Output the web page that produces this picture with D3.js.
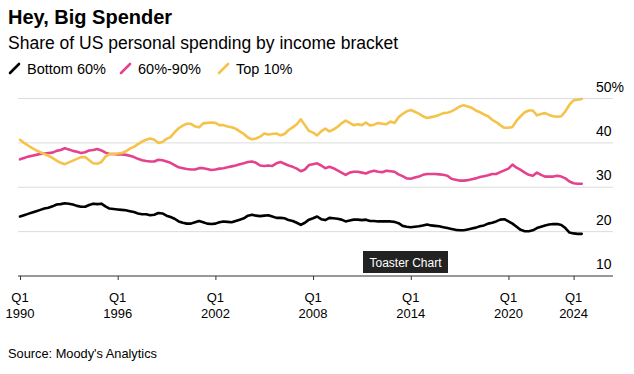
<!DOCTYPE html>
<html lang="en">
<head>
<meta charset="UTF-8">
<title>Hey, Big Spender</title>
<script src="https://d3js.org/d3.v7.min.js"></script>
<style>
  * { margin: 0; padding: 0; box-sizing: border-box; }
  body { background: #fff; width: 634px; height: 374px; overflow: hidden; }
  svg text { font-family: "Liberation Sans", Arial, sans-serif; fill: #000; }
  .grid line { stroke: #dcdcdc; stroke-width: 1; }
  .series { fill: none; stroke-width: 2.6; stroke-linejoin: round; stroke-linecap: round; }
</style>
</head>
<body>
<div id="chart"></div>
<script>
// quarterly, Q1 1990 .. Q3 2024
const quarters = d3.timeMonth.every(3).range(new Date(1990, 0, 1), new Date(2024, 9, 1));

const seriesNames = ["Bottom 60%", "60%-90%", "Top 10%"];
const seriesColors = ["#000000", "#e5428d", "#f5c24a"];

const bottom60 = [
  23.4, 23.7, 24.0, 24.3, 24.6, 24.9, 25.2, 25.4,
  25.7, 26.1, 26.2, 26.4, 26.3, 26.1, 25.8, 25.6,
  25.6, 26.0, 26.3, 26.2, 26.3, 25.7, 25.2, 25.1,
  25.0, 24.9, 24.8, 24.6, 24.4, 24.1, 23.9, 23.9,
  23.7, 23.8, 24.2, 24.1, 23.6, 23.3, 22.9, 22.3,
  22.0, 21.8, 21.8, 22.1, 22.4, 22.1, 21.8, 21.7,
  21.8, 22.1, 22.3, 22.2, 22.1, 22.4, 22.7, 23.0,
  23.6, 23.8, 23.6, 23.5, 23.6, 23.7, 23.4, 23.1,
  23.1, 23.0, 22.6, 22.4, 22.0, 21.5, 22.0, 22.7,
  23.0, 23.4, 22.8, 22.6, 23.1, 23.0, 22.9, 22.7,
  22.3, 22.5, 22.7, 22.7, 22.6, 22.7, 22.4, 22.4,
  22.3, 22.3, 22.3, 22.3, 22.2, 21.9, 21.3, 21.1,
  21.0, 21.1, 21.2, 21.4, 21.6, 21.4, 21.3, 21.2,
  21.0, 20.8, 20.6, 20.4, 20.3, 20.3, 20.5, 20.7,
  20.9, 21.2, 21.4, 21.8, 22.0, 22.3, 22.7, 22.8,
  22.3, 21.8, 21.1, 20.4, 20.1, 20.1, 20.3, 20.8,
  21.1, 21.4, 21.6, 21.7, 21.7, 21.5, 20.8, 19.8,
  19.6, 19.5, 19.5
];

const mid60to90 = [
  36.3, 36.6, 36.9, 37.1, 37.3, 37.5, 37.6, 37.7,
  37.8, 38.2, 38.4, 38.8, 38.5, 38.2, 38.0, 37.7,
  37.9, 38.3, 38.4, 38.6, 38.3, 37.8, 37.5, 37.5,
  37.4, 37.4, 37.3, 37.1, 36.8, 36.4, 36.1, 35.9,
  35.8, 35.8, 36.2, 36.1, 35.8, 35.5, 35.0, 34.5,
  34.3, 34.1, 34.0, 34.0, 34.3, 34.3, 34.1, 33.9,
  34.0, 34.2, 34.3, 34.5, 34.7, 34.9, 35.2, 35.4,
  35.7, 35.8, 35.5, 34.9, 34.8, 34.9, 34.8, 35.4,
  35.7, 35.3, 34.9, 34.6, 34.2, 33.6, 34.0, 35.0,
  35.2, 35.4, 34.9, 34.3, 34.6, 34.3, 33.8, 33.3,
  32.8, 33.3, 33.5, 33.5, 33.3, 33.1, 33.5, 33.7,
  33.5, 33.4, 33.7, 33.6, 33.5, 32.9, 32.5, 32.0,
  31.9, 32.2, 32.4, 32.8, 33.0, 33.0, 33.0, 32.9,
  32.8, 32.6, 31.9, 31.7, 31.5, 31.5, 31.6, 31.8,
  32.0, 32.3, 32.5, 32.7, 33.0, 33.0, 33.4, 33.8,
  34.2, 35.1, 34.4, 33.9, 33.3, 32.8, 32.6, 33.3,
  32.8, 32.4, 32.4, 32.4, 32.6, 32.4, 32.0, 31.3,
  30.9, 30.8, 30.8
];

const top10 = [
  40.7, 40.0, 39.4, 38.8, 38.3, 37.9, 37.5, 37.1,
  36.6, 36.0, 35.5, 35.2, 35.6, 36.0, 36.4, 36.8,
  36.8, 36.1, 35.4, 35.3, 35.7, 36.9, 37.5, 37.5,
  37.6, 37.7, 38.1, 38.7, 39.1, 39.7, 40.3, 40.7,
  41.0, 40.7, 40.0, 40.2, 40.9, 41.3, 42.4, 43.3,
  43.9, 44.3, 44.3, 43.7, 43.5, 44.4, 44.5, 44.6,
  44.5, 44.0, 44.0, 43.7, 43.5, 43.2, 42.6, 42.0,
  41.2, 40.8, 41.0, 41.4, 42.1, 41.9, 42.0, 42.1,
  41.7, 42.0, 42.9, 43.5, 44.2, 45.3, 44.0, 42.7,
  42.3, 41.7, 42.6, 43.2, 42.6, 43.0, 43.6, 44.4,
  45.0, 44.5, 44.0, 44.2, 44.0, 44.6, 43.9, 44.1,
  44.5, 44.3, 44.2, 44.8, 44.5, 45.8, 46.5, 47.1,
  47.4, 47.0, 46.6, 46.0, 45.6, 45.8, 46.0, 46.3,
  46.7, 46.8, 47.1, 47.6, 48.2, 48.5, 48.2, 47.9,
  47.3, 46.9, 46.4, 46.0, 45.2, 44.7, 44.0, 43.4,
  43.4, 43.6, 45.0, 46.0, 46.9, 47.3, 47.3, 46.2,
  46.5, 46.7, 46.3, 46.0, 45.9, 46.0, 47.1, 48.6,
  49.6, 49.7, 49.9
];

const yTicks = [10, 20, 30, 40, 50];
const xTickYears = [1990, 1996, 2002, 2008, 2014, 2020, 2024];

const W = 634, H = 374;
const svg = d3.select("#chart").append("svg")
  .attr("width", W).attr("height", H);

const x = d3.scaleTime()
  .domain([quarters[0], quarters[quarters.length - 1]])
  .range([20, 581.7]);

const y = d3.scaleLinear()
  .domain([10, 50])
  .range([276, 98.5]);

// title block
svg.append("text").attr("x", 8).attr("y", 24)
  .style("font-size", "20px").style("font-weight", "bold")
  .text("Hey, Big Spender");
svg.append("text").attr("x", 8).attr("y", 49)
  .style("font-size", "17.5px")
  .text("Share of US personal spending by income bracket");

// legend
const legendX = [9, 120, 218];
seriesNames.forEach((name, i) => {
  const g = svg.append("g").attr("transform", `translate(${legendX[i]},0)`);
  g.append("line")
    .attr("x1", 1).attr("y1", 73).attr("x2", 10).attr("y2", 64)
    .attr("stroke", seriesColors[i]).attr("stroke-width", 2.6)
    .attr("stroke-linecap", "round");
  g.append("text").attr("x", 18).attr("y", 74)
    .style("font-size", "14.5px")
    .text(name);
});

// gridlines
const grid = svg.append("g").attr("class", "grid");
grid.selectAll("line")
  .data(yTicks.filter(d => d > 10))
  .enter().append("line")
  .attr("x1", 18).attr("x2", 613)
  .attr("y1", d => y(d)).attr("y2", d => y(d));

// y labels on the right
svg.append("g").selectAll("text")
  .data(yTicks)
  .enter().append("text")
  .attr("x", 596)
  .attr("y", d => y(d) - 7)
  .style("font-size", "14px")
  .text(d => d === 50 ? "50%" : d);

// x axis
const xAxis = svg.append("g")
  .attr("transform", `translate(0,${y(10)})`)
  .call(d3.axisBottom(x)
    .tickValues(xTickYears.map(yr => new Date(yr, 0, 1)))
    .tickSize(4)
    .tickFormat(""));
xAxis.select(".domain").remove();
xAxis.selectAll(".tick line").attr("stroke", "#333");
xAxis.append("line")
  .attr("x1", 18).attr("x2", 613)
  .attr("stroke", "#333").attr("stroke-width", 1);

const xlab = svg.append("g").selectAll("g")
  .data(xTickYears)
  .enter().append("g")
  .attr("transform", yr => `translate(${x(new Date(yr, 0, 1))},0)`);
xlab.append("text").attr("y", 302).attr("text-anchor", "middle")
  .style("font-size", "13px").text("Q1");
xlab.append("text").attr("y", 318).attr("text-anchor", "middle")
  .style("font-size", "13px").text(yr => yr);

// lines
const line = d3.line()
  .x((d, i) => x(quarters[i]))
  .y(d => y(d));

[bottom60, mid60to90, top10].forEach((vals, i) => {
  svg.append("path")
    .datum(vals)
    .attr("class", "series")
    .attr("stroke", seriesColors[i])
    .attr("d", line);
});

// watermark box
const badge = svg.append("g").attr("transform", "translate(363,251)");
badge.append("rect").attr("width", 85).attr("height", 22).attr("fill", "#222");
badge.append("text").attr("x", 42.5).attr("y", 15.5)
  .attr("text-anchor", "middle")
  .style("font-size", "12px").style("fill", "#fff")
  .text("Toaster Chart");

// source
svg.append("text").attr("x", 8).attr("y", 358)
  .style("font-size", "12.8px")
  .text("Source: Moody's Analytics");
</script>
</body>
</html>
